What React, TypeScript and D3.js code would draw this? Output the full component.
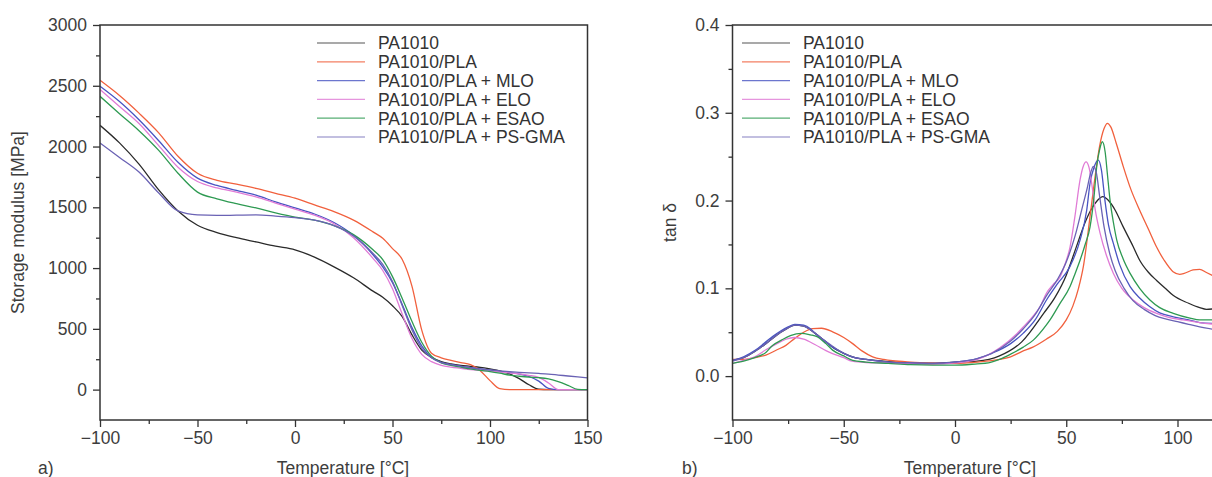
import { useEffect, useRef } from 'react';
import * as d3 from 'd3';

const seriesNames = ['PA1010', 'PA1010/PLA', 'PA1010/PLA + MLO', 'PA1010/PLA + ELO', 'PA1010/PLA + ESAO', 'PA1010/PLA + PS-GMA'];
const seriesColors = ['#2a2a2a', '#f1603d', '#4854c2', '#e07bd6', '#2e9a52', '#6a62b4'];

// a) storage modulus [MPa], shared temperature grid
const modTemps = [-100, -90, -80, -70, -60, -50, -40, -30, -20, -10, 0, 10, 20, 30, 40, 45, 50, 55, 60, 65, 70, 75, 80, 85, 90, 95, 100, 105, 110, 115, 120, 125, 130, 135, 140, 145, 150];
const modPA1010 = [2175, 2030, 1855, 1645, 1470, 1352, 1292, 1250, 1215, 1180, 1150, 1090, 1010, 920, 810, 760, 690, 600, 450, 325, 265, 230, 212, 200, 192, 183, 170, 155, 130, 90, 40, 3, 0, 0, 0, 0, 0];
const modPLA = [2545, 2420, 2275, 2115, 1920, 1780, 1722, 1690, 1655, 1615, 1575, 1520, 1465, 1395, 1298, 1245, 1160, 1070, 850, 490, 300, 262, 240, 222, 205, 156, 74, 8, 0, 0, 0, 0, 0, 0, 0, 0, 0];
const modMLO = [2496, 2370, 2220, 2050, 1870, 1740, 1680, 1640, 1600, 1545, 1495, 1445, 1375, 1270, 1110, 1010, 880, 700, 510, 360, 265, 225, 205, 192, 180, 170, 160, 150, 140, 128, 108, 70, 10, 0, 0, 0, 0];
const modELO = [2470, 2330, 2190, 2010, 1830, 1712, 1660, 1625, 1585, 1535, 1485, 1435, 1365, 1250, 1080, 980, 830, 620, 420, 290, 230, 200, 185, 175, 165, 158, 152, 145, 138, 130, 118, 100, 55, 0, 0, 0, 0];
const modESAO = [2413, 2270, 2130, 1970, 1780, 1625, 1570, 1530, 1495, 1455, 1420, 1395, 1350, 1275, 1150, 1070, 930, 750, 560, 390, 275, 220, 200, 185, 170, 158, 148, 135, 120, 110, 102, 98, 88, 65, 35, 2, 0];
const modPSGMA = [2029, 1910, 1790, 1620, 1470, 1437, 1433, 1435, 1437, 1428, 1415, 1395, 1350, 1265, 1120, 1030, 890, 690, 490, 340, 262, 222, 205, 192, 180, 170, 162, 155, 148, 142, 137, 133, 128, 120, 112, 104, 96];

// b) tan delta
const tanT_PA1010 = [-100, -95, -90, -85, -80, -75, -72, -68, -63, -58, -55, -50, -45, -40, -30, -20, -10, 0, 10, 20, 30, 40, 45, 50, 53, 56, 58, 61, 64, 66.4, 69, 72, 75.6, 80, 83, 87, 90.6, 95, 98, 105, 110, 113, 117];
const tanV_PA1010 = [0.018, 0.021, 0.028, 0.037, 0.047, 0.055, 0.058, 0.057, 0.049, 0.039, 0.033, 0.026, 0.021, 0.019, 0.0165, 0.015, 0.0145, 0.016, 0.017, 0.023, 0.039, 0.072, 0.090, 0.115, 0.136, 0.158, 0.172, 0.189, 0.200, 0.2045, 0.200, 0.189, 0.170, 0.148, 0.132, 0.118, 0.109, 0.099, 0.092, 0.083, 0.078, 0.076, 0.077];

const tanT_PLA = [-100, -95, -90, -85, -80, -76, -72, -68, -64, -60, -55, -50, -46, -42, -37, -32, -28, -20, -10, 0, 10, 17, 25, 30, 35, 41, 46, 50, 53, 55.5, 57.7, 60.7, 63, 65, 67, 68.5, 70, 72.5, 75.6, 79, 83, 87, 90.6, 94, 98, 101, 103, 107, 110, 113, 117];
const tanV_PLA = [0.019, 0.019, 0.021, 0.024, 0.030, 0.035, 0.043, 0.050, 0.054, 0.0545, 0.0505, 0.044, 0.037, 0.029, 0.022, 0.019, 0.0175, 0.016, 0.015, 0.0145, 0.016, 0.018, 0.022, 0.028, 0.033, 0.042, 0.051, 0.064, 0.080, 0.100, 0.125, 0.182, 0.228, 0.262, 0.282, 0.288, 0.284, 0.265, 0.239, 0.213, 0.189, 0.167, 0.147, 0.132, 0.119, 0.116, 0.117, 0.121, 0.1217, 0.118, 0.113];

const tanT_MLO = [-100, -95, -90, -85, -82, -78, -75, -72, -68, -65, -62.8, -59, -55.3, -50, -46.3, -40, -30, -20, -10, 0, 10, 16.6, 25, 30.7, 36, 41.2, 46, 51.7, 56.2, 59.2, 60.7, 62.5, 64.4, 65.8, 67.4, 69, 71.2, 74, 78.7, 83, 87.6, 92, 98.1, 105, 110, 117];
const tanV_MLO = [0.018, 0.022, 0.029, 0.039, 0.045, 0.052, 0.056, 0.059, 0.058, 0.054, 0.0486, 0.041, 0.0334, 0.026, 0.022, 0.019, 0.016, 0.015, 0.0145, 0.016, 0.020, 0.026, 0.037, 0.049, 0.064, 0.087, 0.105, 0.125, 0.155, 0.189, 0.220, 0.238, 0.246, 0.235, 0.200, 0.172, 0.151, 0.127, 0.102, 0.089, 0.079, 0.072, 0.0676, 0.064, 0.061, 0.060];

const tanT_ELO = [-100, -95, -90, -85, -80, -76, -72, -68, -63, -58, -55.3, -50, -46.3, -40, -30, -20, -10, 0, 10, 20, 27.7, 30.7, 35, 38.2, 41.2, 44, 47.2, 49.5, 51.7, 53.9, 56.2, 57.5, 58.9, 60.2, 61.4, 63, 65.2, 68, 71.2, 75, 80.1, 85, 90.6, 96, 102.6, 110, 117];
const tanV_ELO = [0.0145, 0.018, 0.022, 0.030, 0.037, 0.042, 0.044, 0.042, 0.036, 0.029, 0.026, 0.021, 0.017, 0.0155, 0.015, 0.014, 0.0135, 0.015, 0.019, 0.032, 0.048, 0.056, 0.068, 0.079, 0.095, 0.104, 0.113, 0.128, 0.147, 0.182, 0.2235, 0.238, 0.244, 0.238, 0.220, 0.190, 0.163, 0.138, 0.117, 0.100, 0.0867, 0.078, 0.0715, 0.067, 0.064, 0.061, 0.059];

const tanT_ESAO = [-100, -95, -90, -85, -82, -78, -74, -69, -65, -62, -58, -55, -50, -46, -40, -30, -20, -10, 0, 10, 15, 20, 25, 30.7, 35.2, 41, 42.7, 47, 51.7, 54, 56.2, 58.5, 60.7, 62.5, 63.7, 65, 66.2, 67.5, 68.5, 69.7, 71.2, 72.7, 75.5, 78.7, 83, 87.6, 92, 98.1, 105.6, 110, 117];
const tanV_ESAO = [0.0145, 0.017, 0.021, 0.027, 0.035, 0.041, 0.046, 0.0486, 0.047, 0.045, 0.037, 0.0296, 0.023, 0.018, 0.016, 0.0145, 0.013, 0.0125, 0.0125, 0.014, 0.015, 0.019, 0.025, 0.033, 0.041, 0.058, 0.064, 0.082, 0.102, 0.117, 0.132, 0.150, 0.170, 0.205, 0.239, 0.258, 0.267, 0.255, 0.230, 0.200, 0.175, 0.155, 0.134, 0.117, 0.100, 0.0867, 0.078, 0.0715, 0.066, 0.064, 0.064];

const tanT_PSGMA = [-100, -95, -90, -85, -80, -75, -72, -68, -64, -60, -55, -50, -45, -40, -30, -20, -10, 0, 10, 16.6, 25, 30.7, 36, 41.2, 46, 50, 54, 57, 59.5, 61, 62.2, 63.5, 65, 67, 69.5, 72, 76, 80, 85, 90, 95, 100, 105, 110, 117];
const tanV_PSGMA = [0.017, 0.021, 0.028, 0.037, 0.047, 0.055, 0.058, 0.057, 0.051, 0.043, 0.034, 0.026, 0.021, 0.019, 0.016, 0.015, 0.0145, 0.016, 0.020, 0.026, 0.040, 0.054, 0.070, 0.092, 0.110, 0.130, 0.160, 0.190, 0.215, 0.232, 0.239, 0.232, 0.205, 0.170, 0.140, 0.120, 0.100, 0.086, 0.076, 0.069, 0.065, 0.062, 0.059, 0.056, 0.053];

const tempTicks = [-100, -50, 0, 50, 100, 150];
const tempMinor = [-75, -25, 25, 75, 125];
const tempTicksB = [-100, -50, 0, 50, 100]; // 150 falls outside the visible page
const tempMinorB = [-75, -25, 25, 75];
const modTicks = [0, 500, 1000, 1500, 2000, 2500, 3000];
const modMinor = [250, 750, 1250, 1750, 2250, 2750];
const tanTicks = [0, 0.1, 0.2, 0.3, 0.4];
const tanMinor = [0.05, 0.15, 0.25, 0.35];

type Pt = [number, number];
const zip = (t: number[], v: number[]): Pt[] => t.map((d, i) => [d, v[i]]);

export default function App() {
    const svgRef = useRef<SVGSVGElement | null>(null);

    useEffect(() => {
        const svg = d3.select(svgRef.current);
        svg.selectAll('*').remove();

        const font = '"Liberation Sans", Arial, Helvetica, sans-serif';
        const axisColor = '#333';
        const textColor = '#3d3d3d';
        const fs = 17.5;
        const top = 25;
        const bottom = 420;

        const drawPanel = (o: any) => {
            const x = d3.scaleLinear().domain([-100, 150]).range(o.xRange);
            const y = d3.scaleLinear().domain(o.yDomain).range([bottom, top]);
            const g = svg.append('g');
            const left = o.xRange[0];
            const right = o.xRange[1];

            g.append('clipPath').attr('id', o.id).append('rect')
                .attr('x', left).attr('y', top).attr('width', right - left).attr('height', bottom - top);

            // lines
            const line = d3.line<Pt>().x(d => x(d[0])).y(d => y(d[1])).curve(d3.curveMonotoneX);
            const lines = g.append('g').attr('clip-path', `url(#${o.id})`);
            o.series.forEach((s: Pt[], i: number) => {
                lines.append('path')
                    .datum(s)
                    .attr('fill', 'none')
                    .attr('stroke', seriesColors[i])
                    .attr('stroke-width', 1.3)
                    .attr('d', line);
            });

            // frame
            g.append('rect')
                .attr('x', left).attr('y', top)
                .attr('width', right - left).attr('height', bottom - top)
                .attr('fill', 'none').attr('stroke', axisColor).attr('stroke-width', 1.5);

            const styleAxis = (a: any) => {
                a.select('.domain').remove();
                a.selectAll('line').attr('stroke', axisColor).attr('stroke-width', 1.3);
                a.selectAll('text').attr('fill', textColor).style('font-family', font).style('font-size', `${fs}px`);
            };

            g.append('g').attr('transform', `translate(0,${bottom})`)
                .call(d3.axisBottom(x).tickValues(o.xTicks).tickSize(7).tickPadding(5).tickFormat(d3.format('')))
                .call(styleAxis);
            g.append('g').attr('transform', `translate(0,${bottom})`)
                .call(d3.axisBottom(x).tickValues(o.xMinor).tickSize(4).tickFormat(() => ''))
                .call(styleAxis);
            g.append('g').attr('transform', `translate(${left},0)`)
                .call(d3.axisLeft(y).tickValues(o.yTicks).tickSize(7).tickPadding(6).tickFormat(o.yFormat))
                .call(styleAxis);
            g.append('g').attr('transform', `translate(${left},0)`)
                .call(d3.axisLeft(y).tickValues(o.yMinor).tickSize(4).tickFormat(() => ''))
                .call(styleAxis);

            // axis titles
            g.append('text')
                .attr('x', o.xLabelX).attr('y', 474)
                .attr('text-anchor', 'middle')
                .attr('fill', textColor).style('font-family', font).style('font-size', `${fs}px`)
                .text('Temperature [°C]');
            g.append('text')
                .attr('transform', `translate(${o.yLabelX},${(top + bottom) / 2}) rotate(-90)`)
                .attr('text-anchor', 'middle')
                .attr('dy', '0.35em')
                .attr('fill', textColor).style('font-family', font).style('font-size', `${fs}px`)
                .text(o.yLabel);
            g.append('text')
                .attr('x', o.tagX).attr('y', 474)
                .attr('fill', textColor).style('font-family', font).style('font-size', `${fs}px`)
                .text(o.tag);

            // legend
            const lg = g.append('g');
            seriesNames.forEach((name, i) => {
                const cy = 43 + i * 18.8;
                lg.append('line')
                    .attr('x1', o.legendX).attr('x2', o.legendX + 48)
                    .attr('y1', cy).attr('y2', cy)
                    .attr('stroke', seriesColors[i]).attr('stroke-width', 1.2).attr('opacity', 0.8);
                lg.append('text')
                    .attr('x', o.legendX + 61).attr('y', cy).attr('dy', '0.36em')
                    .attr('fill', '#333').style('font-family', font).style('font-size', `${fs}px`)
                    .text(name);
            });
        };

        drawPanel({
            id: 'clipA',
            xRange: [100, 587.5],
            xTicks: tempTicks,
            xMinor: tempMinor,
            yDomain: [-250, 3000],
            yTicks: modTicks,
            yMinor: modMinor,
            yFormat: d3.format(''),
            yLabel: 'Storage modulus [MPa]',
            yLabelX: 18,
            xLabelX: 343,
            tag: 'a)',
            tagX: 38,
            legendX: 317,
            series: [
                zip(modTemps, modPA1010),
                zip(modTemps, modPLA),
                zip(modTemps, modMLO),
                zip(modTemps, modELO),
                zip(modTemps, modESAO),
                zip(modTemps, modPSGMA),
            ],
        });

        drawPanel({
            id: 'clipB',
            xRange: [732.5, 1288.75],
            xTicks: tempTicksB,
            xMinor: tempMinorB,
            yDomain: [-0.05, 0.4],
            yTicks: tanTicks,
            yMinor: tanMinor,
            yFormat: d3.format('.1f'),
            yLabel: 'tan δ',
            yLabelX: 670,
            xLabelX: 970,
            tag: 'b)',
            tagX: 682,
            legendX: 742,
            series: [
                zip(tanT_PA1010, tanV_PA1010),
                zip(tanT_PLA, tanV_PLA),
                zip(tanT_MLO, tanV_MLO),
                zip(tanT_ELO, tanV_ELO),
                zip(tanT_ESAO, tanV_ESAO),
                zip(tanT_PSGMA, tanV_PSGMA),
            ],
        });
    }, []);

    return (
        <svg
            ref={svgRef}
            width={1212}
            height={477}
            style={{ position: 'absolute', left: 0, top: 0, background: '#fff' }}
        />
    );
}
